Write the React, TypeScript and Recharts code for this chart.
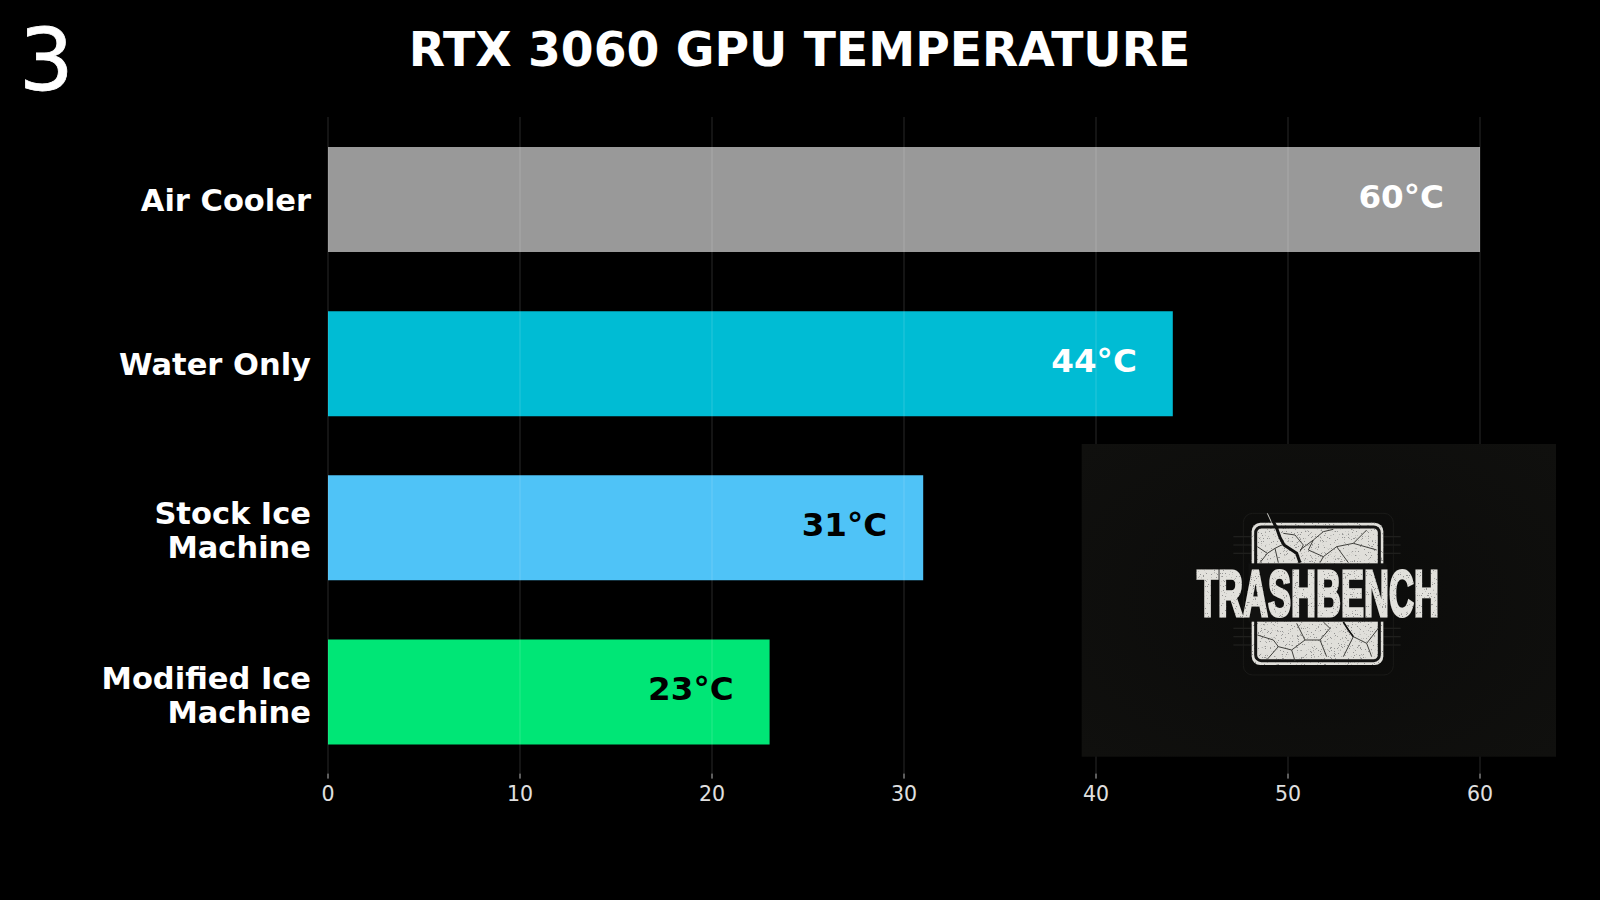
import { BarChart, Bar, Cell, XAxis, YAxis, CartesianGrid, LabelList } from 'recharts'

const FONT = '"DejaVu Sans", sans-serif'

const coolers = ['Air Cooler', 'Water Only', 'Stock Ice Machine', 'Modified Ice Machine']
const temps = [60, 44, 31, 23]
const barColors = ['#999999', '#00BCD4', '#4FC3F7', '#00E676']
const labelColors = ['#ffffff', '#ffffff', '#000000', '#000000']
const xTicks = [0, 10, 20, 30, 40, 50, 60]

const data = coolers.map((name, i) => ({ name, temp: temps[i] }))

// the two long names wrap on their last word
const CoolerTick = ({ x, y, payload }: any) => {
  const words = String(payload.value).split(' ')
  const lines = words.length > 2 ? [words.slice(0, -1).join(' '), words[words.length - 1]] : [payload.value]
  return (
    <text x={x} textAnchor="end" fill="#fff" fontFamily={FONT} fontWeight="bold" fontSize={30.5}>
      {lines.map((line: string, i: number) => (
        <tspan key={line} x={x} y={y + (lines.length > 1 ? -3 + i * 34 : 12)}>
          {line}
        </tspan>
      ))}
    </text>
  )
}

const TempLabel = ({ x, y, width, height, value, index }: any) => (
  <text
    x={x + width - 36}
    y={y + height / 2 + 8}
    textAnchor="end"
    fill={labelColors[index]}
    fontFamily={FONT}
    fontWeight="bold"
    fontSize={32.6}
  >
    {value}°C
  </text>
)

const thinCracks = [
  '232,140 262,160 285,145 305,135',
  '262,160 240,188',
  '285,145 295,188',
  '360,150 400,120 430,95 460,88',
  '400,120 385,150 430,170 470,140 520,130 560,90',
  '470,140 505,188',
  '520,130 590,150',
  '430,170 420,188',
  '310,100 345,105 370,135 360,155',
  '232,405 280,420 295,440 260,480',
  '295,440 335,450 375,420 350,370',
  '375,420 420,420 450,385 430,366',
  '420,420 440,470',
  '335,450 345,483',
  '490,366 520,410 560,430 595,385',
  '520,410 490,470',
  '560,430 575,470',
]

const Logo = () => (
  <svg width={1600} height={900} style={{ position: 'absolute', left: 0, top: 0 }}>
    <defs>
      <radialGradient id="logoBg" cx="50%" cy="50%" r="70%">
        <stop offset="0%" stopColor="#0b0b0a" />
        <stop offset="100%" stopColor="#10100e" />
      </radialGradient>
      <filter id="speckle" x="-5%" y="-5%" width="110%" height="110%">
        <feTurbulence type="fractalNoise" baseFrequency="0.9" numOctaves={2} seed={4} result="noise" />
        <feColorMatrix
          in="noise"
          type="matrix"
          values="0 0 0 0 0.3  0 0 0 0 0.3  0 0 0 0 0.29  0 0 0 -14 5"
          result="specks"
        />
        <feComposite in="specks" in2="SourceAlpha" operator="in" result="clipped" />
        <feMerge>
          <feMergeNode in="SourceGraphic" />
          <feMergeNode in="clipped" />
        </feMerge>
      </filter>
    </defs>
    <rect x={1081.7} y={444} width={474.3} height={312.7} fill="url(#logoBg)" />
    <g transform="translate(1180 500) scale(0.33333)">
      <rect x={190} y={40} width={450} height={485} rx={28} fill="none" stroke="#1a1a18" strokeWidth={3} />
      {[110, 135, 160, 385, 410, 435].map((y) => (
        <g key={y} stroke="#1f1f1d" strokeWidth={4}>
          <line x1={160} x2={215} y1={y} y2={y} />
          <line x1={610} x2={662} y1={y} y2={y} />
        </g>
      ))}
      <g filter="url(#speckle)">
        <rect x={215} y={68} width={395} height={427} rx={26} fill="#e0dfda" />
      </g>
      <rect x={227} y={81} width={371} height={401} rx={17} fill="none" stroke="#141413" strokeWidth={9} />
      {thinCracks.map((points) => (
        <polyline key={points} points={points} fill="none" stroke="#3f3f3b" strokeWidth={3} />
      ))}
      <polyline points="262,40 275,68" fill="none" stroke="#cfcfca" strokeWidth={3} />
      <polyline points="278,60 290,85 300,112 312,135 350,160 360,188" fill="none" stroke="#111110" strokeWidth={9} />
      <polyline points="490,366 505,390 520,410" fill="none" stroke="#111110" strokeWidth={5} />
      <rect x={205} y={190} width={415} height={175} fill="#111110" />
    </g>
    <g filter="url(#speckle)">
      <text
        transform="translate(1197 616) scale(0.536 1)"
        fontFamily='"Liberation Sans Narrow", "Liberation Sans", sans-serif'
        fontWeight="bold"
        fontSize={64.5}
        fill="#e2e1dc"
        stroke="#e2e1dc"
        strokeWidth={3}
      >
        TRASHBENCH
      </text>
    </g>
  </svg>
)

const App = () => (
  <div style={{ position: 'absolute', left: 0, top: 0, width: 1600, height: 900, background: '#000', overflow: 'hidden' }}>
    <BarChart
      width={1600}
      height={900}
      data={data}
      layout="vertical"
      margin={{ top: 117, right: 62.4, bottom: 66.4, left: 0 }}
    >
      <XAxis
        type="number"
        domain={[0, 63]}
        ticks={xTicks}
        height={60}
        interval={0}
        axisLine={false}
        tickLine={{ stroke: '#bbbbbb', strokeWidth: 1 }}
        tickSize={5}
        tickMargin={8}
        tick={{ fill: '#e0e0e0', fontSize: 20.5, fontFamily: FONT }}
      />
      <YAxis
        type="category"
        dataKey="name"
        width={328}
        axisLine={false}
        tickLine={false}
        tickMargin={0}
        tickSize={17}
        interval={0}
        tick={<CoolerTick />}
      />
      <Bar dataKey="temp" barSize={105} isAnimationActive={false}>
        {barColors.map((color) => (
          <Cell key={color} fill={color} />
        ))}
        <LabelList dataKey="temp" content={<TempLabel />} />
      </Bar>
      <CartesianGrid horizontal={false} syncWithTicks stroke="#ffffff" strokeOpacity={0.16} zIndex={500} />
    </BarChart>
    <Logo />
    <svg width={1600} height={900} style={{ position: 'absolute', left: 0, top: 0 }}>
      <text x={19} y={90} fill="#fff" stroke="#fff" strokeWidth={0.8} fontFamily={FONT} fontSize={86}>
        3
      </text>
      <text x={799.5} y={66} textAnchor="middle" fill="#fff" fontFamily={FONT} fontWeight="bold" fontSize={47.2}>
        RTX 3060 GPU TEMPERATURE
      </text>
    </svg>
  </div>
)

export default App
